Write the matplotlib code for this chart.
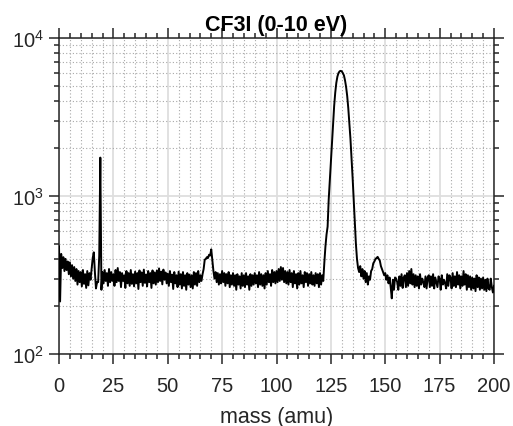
import numpy as np
import matplotlib
matplotlib.use("Agg")
import matplotlib.pyplot as plt
from matplotlib.ticker import MultipleLocator, LogLocator, NullFormatter

plt.rcParams['font.family'] = ['Liberation Sans', 'DejaVu Sans']
plt.rcParams['mathtext.fontset'] = 'custom'
plt.rcParams['mathtext.rm'] = 'Liberation Sans'
plt.rcParams['mathtext.default'] = 'regular'

title = "CF3I (0-10 eV)"
xlabel = "mass (amu)"
x_ticks = [0, 25, 50, 75, 100, 125, 150, 175, 200]

# mass axis sampled every 0.5 amu (0 .. 200)
mass = np.arange(0, 200.5, 0.5)

# ion counts, one row = 5 amu
counts = [
    480, 215, 430, 350, 410, 335, 400, 340, 385, 320,      # 0
    380, 310, 365, 300, 355, 290, 345, 275, 335, 285,      # 5
    330, 268, 340, 278, 320, 262, 335, 272, 325, 295,      # 10
    345, 405, 440, 330, 260, 285, 285, 420, 1750, 255,     # 15
    330, 280, 340, 290, 325, 270, 345, 285, 330, 290,      # 20
    320, 270, 340, 285, 350, 290, 330, 265, 325, 290,      # 25
    315, 262, 335, 280, 325, 270, 340, 278, 320, 268,      # 30
    332, 280, 325, 258, 338, 285, 328, 270, 342, 282,      # 35
    318, 268, 335, 285, 325, 262, 338, 280, 328, 275,      # 40
    338, 285, 348, 290, 332, 276, 342, 295, 328, 280,      # 45
    322, 270, 335, 285, 318, 258, 330, 280, 315, 265,      # 50
    332, 275, 320, 260, 330, 270, 315, 255, 325, 275,      # 55
    318, 265, 315, 260, 330, 275, 325, 270, 335, 285,      # 60
    315, 290, 320, 345, 395, 400, 410, 405, 425, 420,      # 65
    460, 395, 335, 300, 330, 285, 325, 275, 320, 280,      # 70
    335, 285, 325, 270, 320, 280, 330, 265, 315, 275,      # 75
    325, 270, 315, 255, 320, 275, 310, 260, 325, 270,      # 80
    315, 265, 325, 275, 310, 255, 320, 270, 315, 275,      # 85
    325, 280, 315, 265, 330, 275, 320, 270, 315, 260,      # 90
    325, 275, 335, 285, 320, 270, 340, 285, 330, 280,      # 95
    335, 285, 345, 290, 355, 295, 350, 285, 335, 280,      # 100
    330, 275, 340, 285, 325, 265, 335, 280, 320, 260,      # 105
    325, 275, 335, 280, 315, 265, 330, 285, 325, 270,      # 110
    320, 280, 330, 275, 315, 270, 325, 280, 320, 265,      # 115
    325, 275, 315, 290, 380, 480, 570, 640, 950, 1250,     # 120
    1600, 2200, 2900, 3700, 4500, 5200, 5700, 6000, 6150, 6200,  # 125
    6150, 6000, 5800, 5400, 4900, 4300, 3600, 2900, 2300, 1750,  # 130
    1300, 950, 700, 500, 400, 350, 330, 360, 310, 345,     # 135
    300, 335, 285, 325, 275, 310, 295, 335, 345, 375,      # 140
    385, 400, 405, 412, 400, 390, 360, 345, 330, 315,      # 145
    325, 295, 315, 280, 305, 265, 225, 295, 255, 305,      # 150
    300, 285, 255, 310, 270, 320, 262, 305, 315, 265,      # 155
    325, 270, 335, 280, 345, 275, 320, 265, 315, 270,      # 160
    310, 260, 320, 275, 300, 285, 265, 310, 260, 305,      # 165
    315, 265, 310, 270, 320, 260, 305, 285, 265, 310,      # 170
    300, 255, 315, 275, 295, 280, 260, 320, 270, 315,      # 175
    305, 260, 325, 270, 310, 265, 330, 275, 315, 260,      # 180
    310, 270, 335, 275, 320, 255, 315, 265, 310, 255,      # 185
    305, 260, 300, 250, 315, 265, 305, 255, 300, 260,      # 190
    305, 255, 295, 250, 300, 260, 255, 300, 265, 245,      # 195
    270,                                                   # 200
]

fig = plt.figure(figsize=(5.13, 4.27), dpi=100)
ax = fig.add_axes([59/513, 1-355/427, (494-59)/513, (355-39)/427])

axc = '#262626'
ax.plot(mass, counts, color='black', lw=1.4, zorder=3)
ax.set_yscale('log')
ax.set_xlim(0, 200)
ax.set_ylim(100, 10000)
ax.set_xticks(x_ticks)
ax.xaxis.set_minor_locator(MultipleLocator(5))
ax.yaxis.set_major_locator(LogLocator(base=10, numticks=10))
ax.yaxis.set_minor_locator(LogLocator(base=10, subs=np.arange(2, 10), numticks=20))
ax.yaxis.set_minor_formatter(NullFormatter())

ax.grid(True, which='major', color='#dedede', lw=1.3, ls='-', zorder=0)
ax.grid(True, which='minor', color='#a8a8a8', lw=0.8, ls=(0, (1, 2)), zorder=0)
ax.set_axisbelow(True)

for s in ax.spines.values():
    s.set_color(axc)
    s.set_linewidth(1.1)

ax.tick_params(which='both', direction='out', top=True, right=True,
               colors=axc, width=1.1, labelsize=14.5, labelcolor=axc)
ax.tick_params(which='major', length=7)
ax.tick_params(which='minor', length=3.3)
ax.tick_params(axis='x', which='major', pad=9)
ax.tick_params(axis='y', which='major', pad=4)

ax.set_title(title, fontsize=15.5, fontweight='bold', color='black', pad=6)
ax.set_xlabel(xlabel, fontsize=15.5, color=axc, labelpad=8)

fig.savefig('out.png', dpi=100)
